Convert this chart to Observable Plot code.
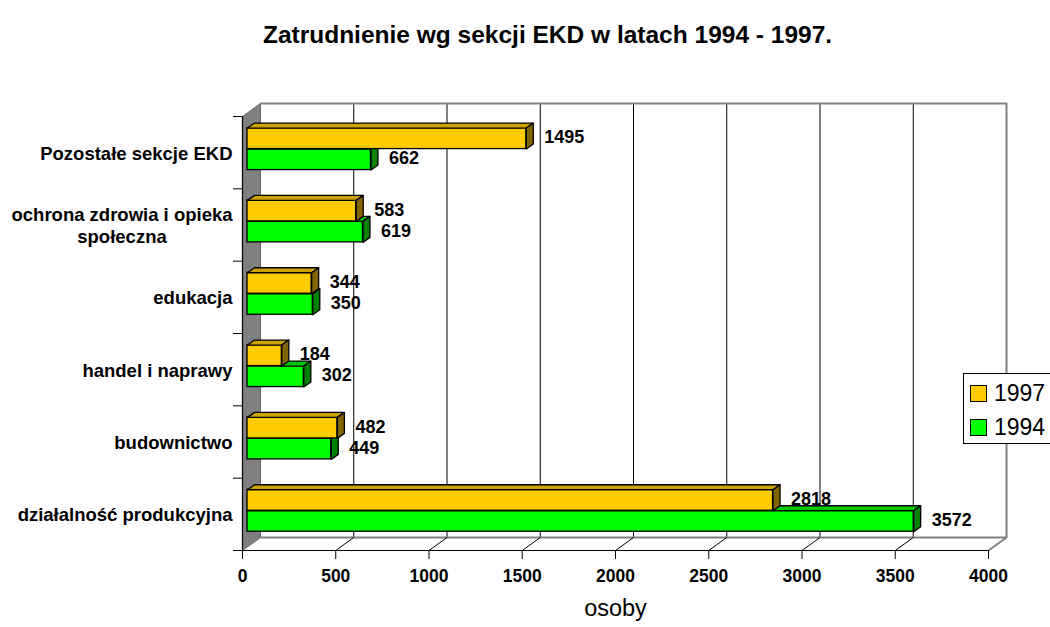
<!DOCTYPE html>
<html><head><meta charset="utf-8">
<script src="https://cdn.jsdelivr.net/npm/d3@7"></script>
<script src="https://cdn.jsdelivr.net/npm/@observablehq/plot@0.6"></script>
<style>
body{margin:0;background:#fff;}
#wrap{position:relative;width:1050px;height:627px;overflow:hidden;background:#fff;}
#legend{position:absolute;left:963px;top:373px;width:100px;height:69px;border:1px solid #000;background:#fff;font-family:"Liberation Sans",Arial,sans-serif;font-size:23px;color:#000;}
.row{position:absolute;left:6px;display:flex;align-items:center;height:24px;}
.sw{width:15px;height:15px;border:1px solid #000;margin-right:7px;}
</style></head><body><div id="wrap"></div>
<script>
// ---- data ----
const title = "Zatrudnienie wg sekcji EKD w latach 1994 - 1997.";
const xLabel = "osoby";
const categories = ["Pozostałe sekcje EKD", "ochrona zdrowia i opieka\nspołeczna", "edukacja", "handel i naprawy", "budownictwo", "działalność produkcyjna"];
const series = ["1997", "1994"];
const values1997 = [1495, 583, 344, 184, 482, 2818];
const values1994 = [662, 619, 350, 302, 449, 3572];
const xTicks = [0, 500, 1000, 1500, 2000, 2500, 3000, 3500, 4000];

// ---- geometry ----
const W = 1050, H = 627, ML = 242, MR = 62, MT = 116, MB = 77;
const N = categories.length;
const kx = (W - ML - MR) / 4000, ky = (H - MT - MB) / N;
const WALL = [18, -13];           // full depth offset, px
const BF = [5, -3.6];             // bar front face offset, px
const BD = [7, -5];               // bar depth, px
const wx = WALL[0] / kx, wy = -WALL[1] / ky;
const bx = BD[0] / kx, by = -BD[1] / ky;
const hb = 21 / ky;
const FONT = "'Liberation Sans', Arial, sans-serif";
const CAT_SIZE = 18.5;

const colors = {
  "1997": {front: "#FFCC00", top: "#CCA300", side: "#806600"},
  "1994": {front: "#00FF00", top: "#00C800", side: "#008000"}
};
const valuesBy = {"1997": values1997, "1994": values1994};

const rows = [];
categories.forEach((c, j) => {
  const i = N - 1 - j;
  series.forEach(s => {
    const v = valuesBy[s][j];
    const yb = s === "1997" ? i + 0.5 : i + 0.5 - hb;
    const yt = yb + hb;
    rows.push({cat: c, s, v, yb, yt, id: c + s});
  });
});
const topPts = [], sidePts = [];
rows.forEach(r => {
  [[0, r.yt], [r.v, r.yt], [r.v + bx, r.yt + by], [bx, r.yt + by], [0, r.yt]]
    .forEach(([x, y]) => topPts.push({x, y, id: r.id, s: r.s}));
  [[r.v, r.yb], [r.v, r.yt], [r.v + bx, r.yt + by], [r.v + bx, r.yb + by], [r.v, r.yb]]
    .forEach(([x, y]) => sidePts.push({x, y, id: r.id, s: r.s}));
});

// category label positions (block right-aligned, lines centered)
const ctx = document.createElement("canvas").getContext("2d");
ctx.font = "bold " + CAT_SIZE + "px " + FONT;
const catLabels = categories.map((c, j) => {
  const w = d3.max(c.split("\n"), l => ctx.measureText(l).width);
  return {text: c, y: N - 1 - j + 0.5, x: -(10 + w / 2) / kx};
});

function barMarks(s) {
  const c = colors[s];
  return [
    Plot.rect(rows.filter(r => r.s === s), {x1: 0, x2: "v", y1: "yb", y2: "yt", fill: c.front, stroke: "black", strokeWidth: 1.3, dx: BF[0], dy: BF[1]}),
    Plot.line(topPts.filter(p => p.s === s), {x: "x", y: "y", z: "id", fill: c.top, stroke: "black", strokeWidth: 1.3, dx: BF[0], dy: BF[1]}),
    Plot.line(sidePts.filter(p => p.s === s), {x: "x", y: "y", z: "id", fill: c.side, stroke: "black", strokeWidth: 1.3, dx: BF[0], dy: BF[1]})
  ];
}

const chart = Plot.plot({
  width: W, height: H,
  marginLeft: ML, marginRight: MR, marginTop: MT, marginBottom: MB,
  x: {domain: [0, 4000]},
  y: {domain: [0, N]},
  style: {fontFamily: FONT, color: "black", background: "white", overflow: "visible"},
  marks: [
    // left wall
    Plot.line([[0, 0], [0, N], [wx, N + wy], [wx, wy], [0, 0]], {fill: "#808080", stroke: "#666", strokeWidth: 1}),
    // back wall gridlines
    Plot.ruleX(xTicks.filter(t => t > 0 && t < 4000), {x: d => d, y1: 0, y2: N, stroke: "black", strokeWidth: 1, dx: WALL[0], dy: WALL[1]}),
    // back wall border
    Plot.line([[0, N], [4000, N], [4000, 0], [0, 0]], {stroke: "#808080", strokeWidth: 2, dx: WALL[0], dy: WALL[1]}),
    // floor diagonals
    Plot.link(xTicks.filter(t => t > 0 && t < 4000), {x1: d => d, y1: 0, x2: d => d + wx, y2: wy, stroke: "black", strokeWidth: 1}),
    Plot.link([4000], {x1: d => d, y1: 0, x2: d => d + wx, y2: wy, stroke: "#808080", strokeWidth: 2}),
    // front axes
    Plot.ruleY([0], {x1: -9 / kx, x2: 4000, stroke: "black", strokeWidth: 1.2}),
    Plot.ruleX([0], {y1: 0, y2: N, stroke: "black", strokeWidth: 1.2}),
    Plot.axisX({ticks: xTicks, tickSize: 9, tickPadding: 10, tickFormat: d => String(d), fontSize: 17.5, fontWeight: "bold", label: null, stroke: "black"}),
    Plot.axisY({ticks: d3.range(0, N + 1), tickSize: 9, tickFormat: () => "", label: null}),
    // bars (back series first)
    ...barMarks("1994"),
    ...barMarks("1997"),
    // value labels
    Plot.text(rows, {x: "v", y: r => (r.yb + r.yt) / 2, text: r => String(r.v), textAnchor: "start", dx: 23, dy: BF[1] - 1, fontSize: 18, fontWeight: "bold", fill: "black"}),
    // category labels
    Plot.text(catLabels, {x: "x", y: "y", text: "text", textAnchor: "middle", lineHeight: 1.19, fontSize: CAT_SIZE, fontWeight: "bold", fill: "black"}),
    // title & axis label
    Plot.text([title], {text: d => d, frameAnchor: "top", dx: -68, dy: -91, fontSize: 24.5, fontWeight: "bold", fill: "black"}),
    Plot.text([xLabel], {text: d => d, frameAnchor: "bottom", dy: 65, fontSize: 23.5, fill: "black"})
  ]
});
const wrap = document.getElementById("wrap");
wrap.appendChild(chart);

// legend
const legend = document.createElement("div");
legend.id = "legend";
series.forEach((s, k) => {
  const row = document.createElement("div");
  row.className = "row";
  row.style.top = (7 + k * 34) + "px";
  const sw = document.createElement("div");
  sw.className = "sw";
  sw.style.background = colors[s].front;
  const t = document.createElement("span");
  t.textContent = s;
  row.appendChild(sw); row.appendChild(t);
  legend.appendChild(row);
});
wrap.appendChild(legend);
</script></body></html>
